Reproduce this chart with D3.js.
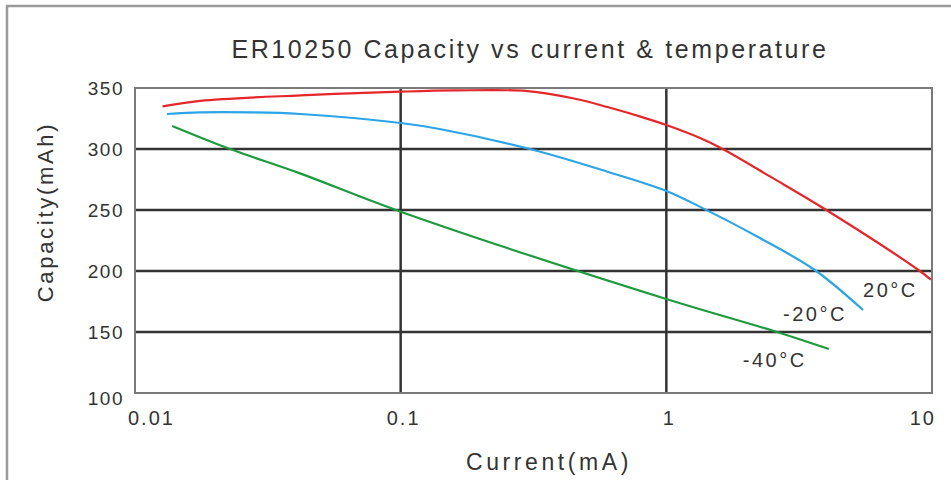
<!DOCTYPE html>
<html>
<head>
<meta charset="utf-8">
<script src="https://cdn.jsdelivr.net/npm/d3@7"></script>
<style>
  body { margin: 0; background: #fff; }
  text { font-family: "Liberation Sans", Arial, sans-serif; fill: #333; }
</style>
</head>
<body>
<div id="chart"></div>
<script>
// values
const xTicks = [0.01, 0.1, 1, 10];
const xTickLabels = ['0.01', '0.1', '1', '10'];
const yTicks = [100, 150, 200, 250, 300, 350];

const current20 = [0.0127, 0.0176, 0.042, 0.1, 0.16, 0.3, 0.445, 0.6, 0.8, 1.0, 1.34, 1.63, 2.5, 4.0, 9.0, 9.9];
const cap20     = [335, 339.5, 344, 347, 348, 347.5, 341.6, 334.4, 326.5, 319.7, 309, 300, 276.5, 250, 200, 193];

const currentM20 = [0.0132, 0.0176, 0.0271, 0.0418, 0.1, 0.14, 0.307, 0.6, 1.0, 1.4, 2.25, 3.62, 5.5];
const capM20     = [328.7, 330, 330, 328.7, 321.3, 316.4, 300, 281.4, 265.6, 250.5, 227, 200.8, 168];

const currentM40 = [0.0138, 0.0228, 0.0418, 0.1, 1.0, 2.61, 4.09];
const capM40     = [318.9, 300, 280, 248.6, 177, 150, 136];

const seriesNames = ['20°C', '-20°C', '-40°C'];
const seriesColors = ['#e5262b', '#2ba5e8', '#1c9a3e'];
// where each curve label starts (current, capacity)
const labelCurrent = [5.5, 2.75, 1.94];
const labelCap = [178.7, 159, 121.3];

const width = 951, height = 480;
const svg = d3.select('#chart').append('svg')
  .attr('width', width)
  .attr('height', height);

// outer frame
svg.append('rect')
  .attr('x', 7).attr('y', 6)
  .attr('width', 1000).attr('height', 600)
  .attr('fill', 'none')
  .attr('stroke', '#9a9a9a')
  .attr('stroke-width', 2.5);

const x = d3.scaleLog().domain([0.01, 10]).range([135, 932]);
const y = d3.scaleLinear().domain([100, 350]).range([393, 88]);

// grid
const grid = svg.append('g');
grid.selectAll('.hgrid')
  .data(yTicks.slice(1, -1))
  .enter()
  .append('line')
  .attr('x1', x(0.01)).attr('x2', x(10))
  .attr('y1', d => y(d)).attr('y2', d => y(d))
  .attr('stroke', '#333')
  .attr('stroke-width', 2.5);

grid.selectAll('.vgrid')
  .data(xTicks.slice(1, -1))
  .enter()
  .append('line')
  .attr('x1', d => x(d)).attr('x2', d => x(d))
  .attr('y1', y(350)).attr('y2', y(100))
  .attr('stroke', '#333')
  .attr('stroke-width', 2.5);

grid.append('rect')
  .attr('x', x(0.01)).attr('y', y(350))
  .attr('width', x(10) - x(0.01))
  .attr('height', y(100) - y(350))
  .attr('fill', 'none')
  .attr('stroke', '#7a7a7a')
  .attr('stroke-width', 2);

// curves
const line = d3.line()
  .x(d => x(d[0]))
  .y(d => y(d[1]))
  .curve(d3.curveCatmullRom.alpha(0.5));

const series = [
  d3.zip(current20, cap20),
  d3.zip(currentM20, capM20),
  d3.zip(currentM40, capM40)
];

svg.selectAll('.curve')
  .data(series)
  .enter()
  .append('path')
  .attr('class', 'curve')
  .attr('d', line)
  .attr('fill', 'none')
  .attr('stroke', (d, i) => seriesColors[i])
  .attr('stroke-width', 2.2);

// curve labels
svg.selectAll('.clabel')
  .data(seriesNames)
  .enter()
  .append('text')
  .attr('x', (d, i) => x(labelCurrent[i]))
  .attr('y', (d, i) => y(labelCap[i]))
  .attr('font-size', '20px')
  .attr('letter-spacing', '2.5px')
  .text(d => d);

// y tick labels
svg.selectAll('.ylab')
  .data(yTicks)
  .enter()
  .append('text')
  .attr('x', 124)
  .attr('y', d => y(d))
  .attr('dy', (d, i) => i === 0 ? '0.62em' : '0.35em')
  .attr('text-anchor', 'end')
  .attr('font-size', '19px')
  .attr('letter-spacing', '1.5px')
  .text(d => d);

// x tick labels
svg.selectAll('.xlab')
  .data(xTicks)
  .enter()
  .append('text')
  .attr('x', (d, i) => x(d) + (i === 0 ? -7 : i === xTicks.length - 1 ? 4 : 3))
  .attr('y', 425)
  .attr('text-anchor', (d, i) => i === 0 ? 'start' : i === xTicks.length - 1 ? 'end' : 'middle')
  .attr('font-size', '20px')
  .attr('letter-spacing', '2px')
  .text((d, i) => xTickLabels[i]);

// title and axis titles
svg.append('text')
  .attr('x', 530)
  .attr('y', 58)
  .attr('text-anchor', 'middle')
  .attr('font-size', '25px')
  .attr('letter-spacing', '2.6px')
  .text('ER10250 Capacity vs current & temperature');

svg.append('text')
  .attr('x', 549)
  .attr('y', 470)
  .attr('text-anchor', 'middle')
  .attr('font-size', '23px')
  .attr('letter-spacing', '3.6px')
  .text('Current(mA)');

svg.append('text')
  .attr('transform', 'translate(53,212) rotate(-90)')
  .attr('text-anchor', 'middle')
  .attr('font-size', '22px')
  .attr('letter-spacing', '2.7px')
  .text('Capacity(mAh)');
</script>
</body>
</html>
